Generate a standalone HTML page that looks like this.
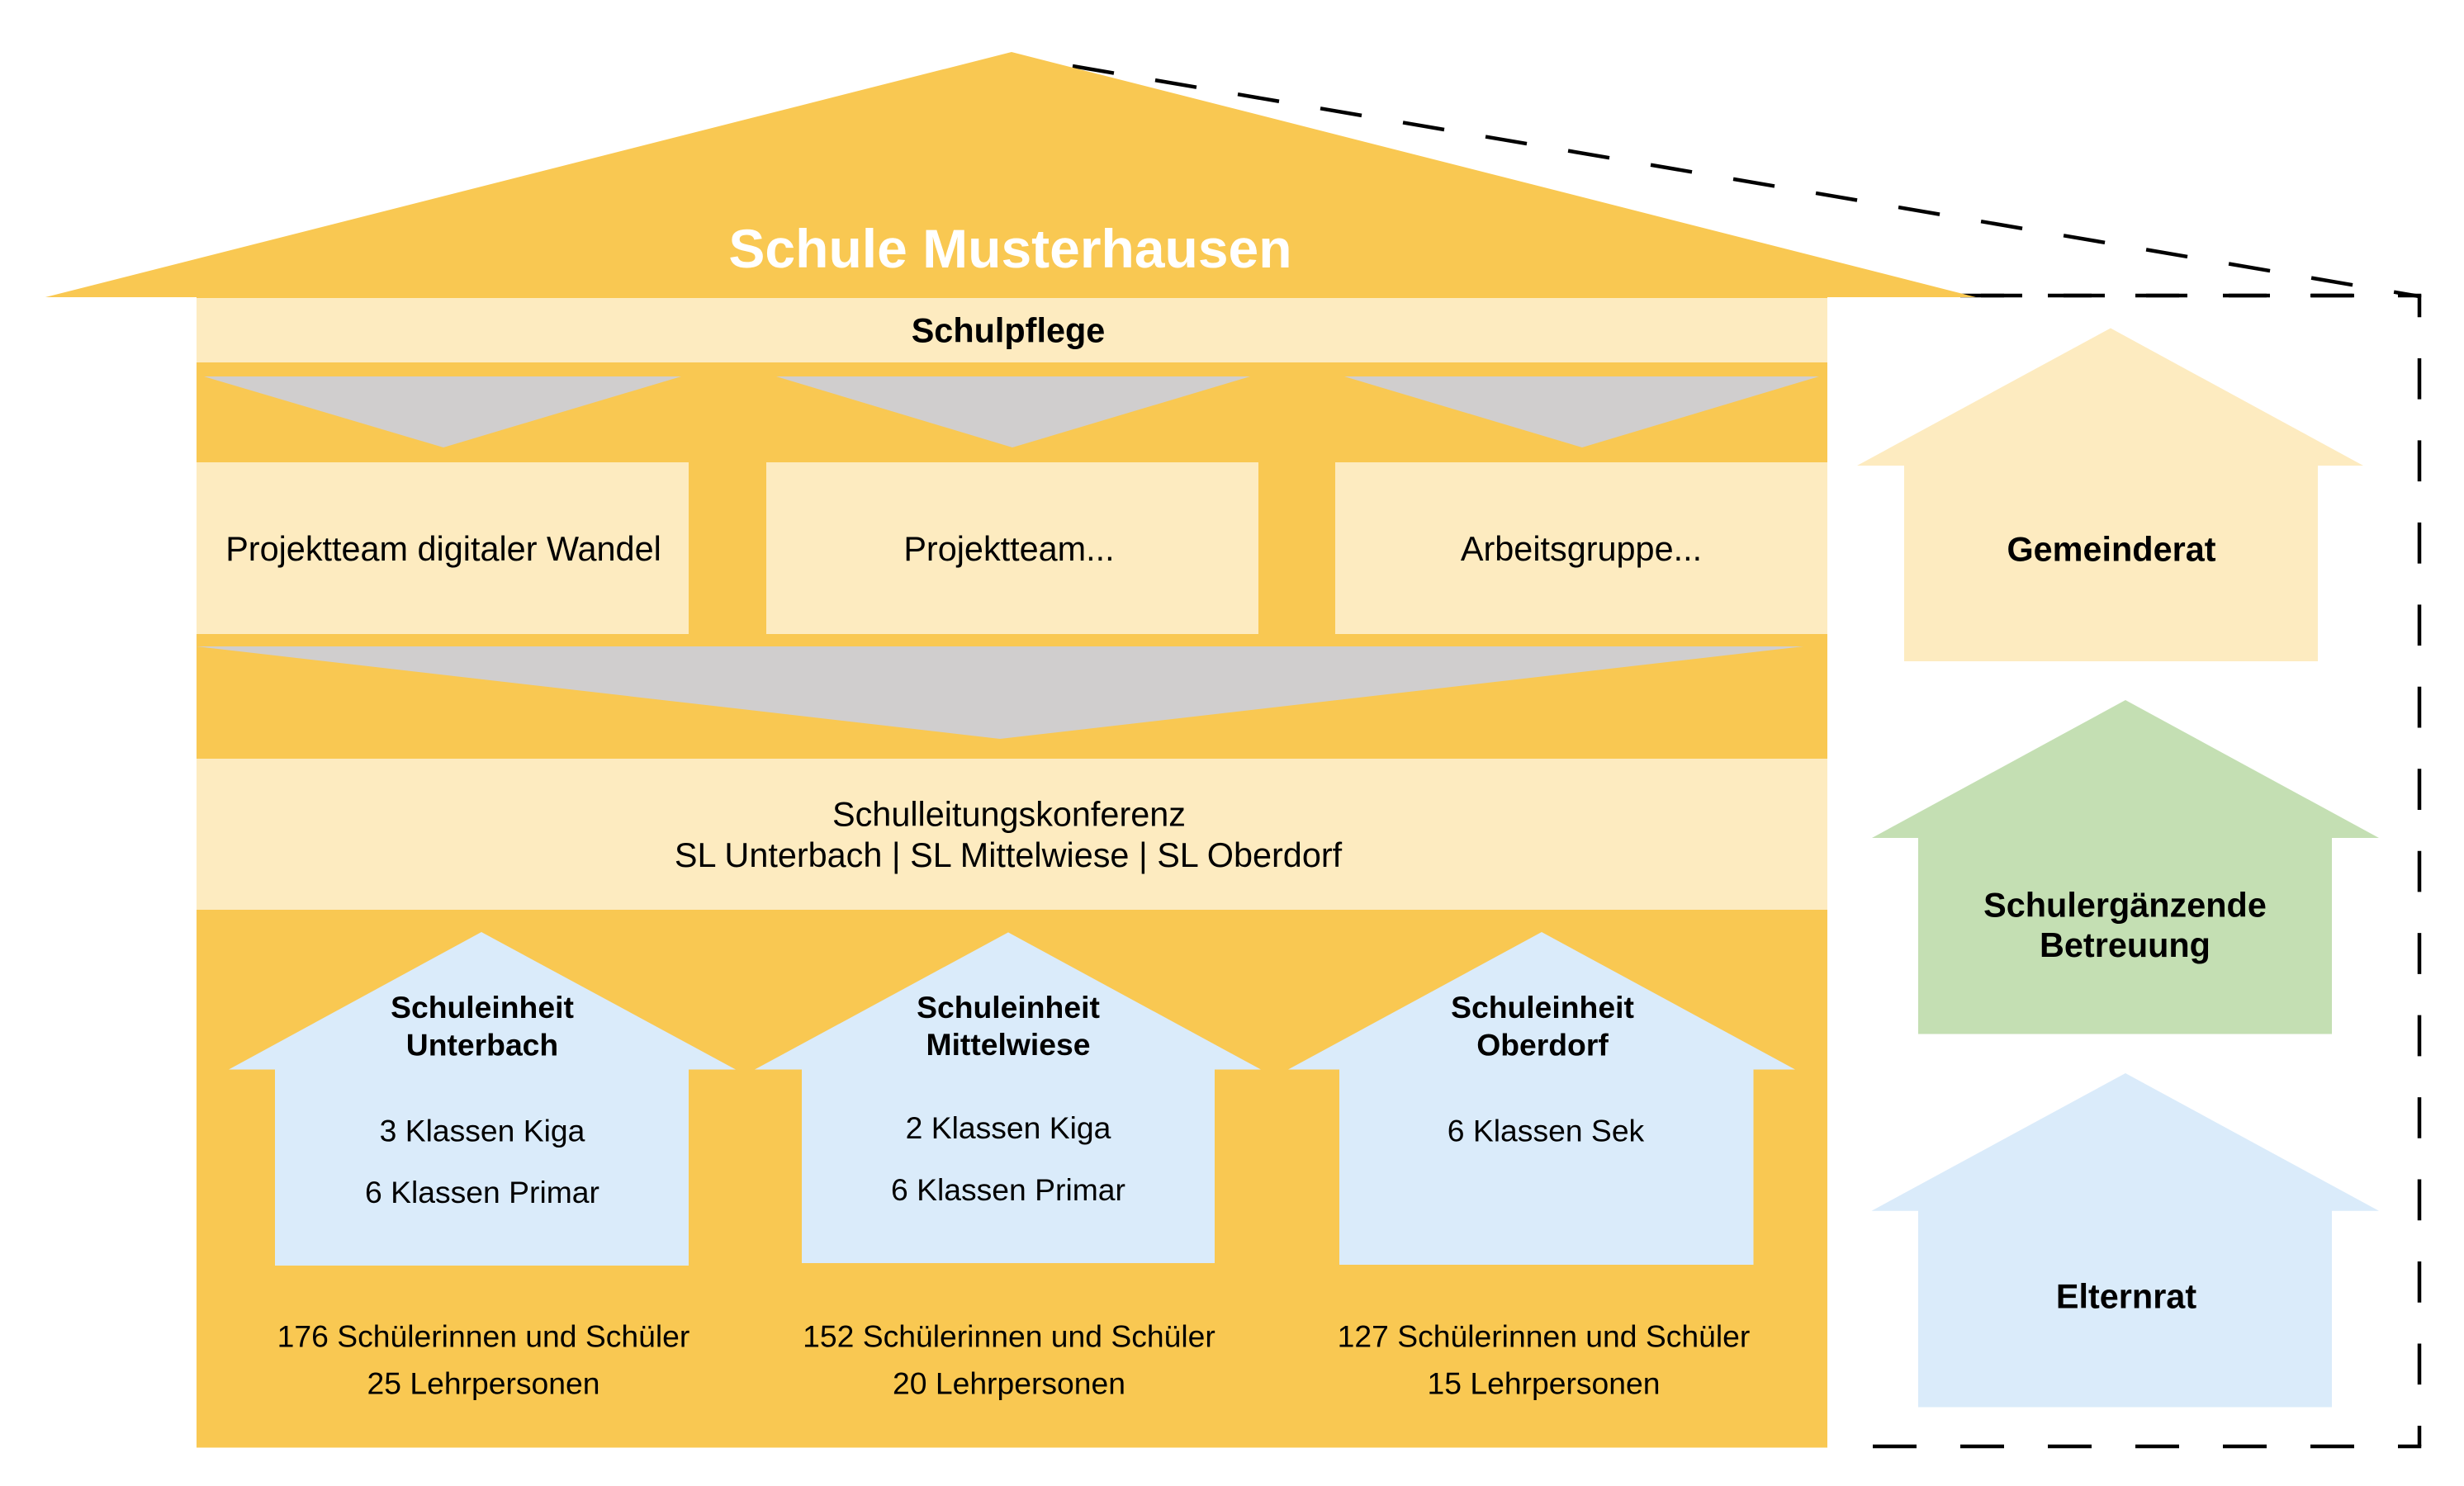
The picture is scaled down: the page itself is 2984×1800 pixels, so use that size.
<!DOCTYPE html>
<html>
<head>
<meta charset="utf-8">
<style>
  html, body { margin: 0; padding: 0; background: #ffffff; }
  svg { display: block; }
  text { font-family: "Liberation Sans", Arial, sans-serif; fill: #000; }
  .b { font-weight: bold; }
  .t41 { font-size: 41.4px; }
  .t37 { font-size: 37.3px; }
</style>
</head>
<body>
<svg xmlns="http://www.w3.org/2000/svg" width="2984" height="1800" viewBox="0 0 2984 1800">
  <rect x="0" y="0" width="2984" height="1800" fill="#ffffff"/>

  <!-- dashed outline -->
  <g stroke="#000" stroke-width="4.5" fill="none" stroke-linecap="butt">
    <line x1="1299" y1="80" x2="2930" y2="359" stroke-dasharray="50.7 50.76"/>
    <line x1="2930" y1="356.75" x2="2930" y2="1752" stroke-dasharray="49.7 49.76" stroke-dashoffset="22.25"/>
    <line x1="2374" y1="358" x2="2932.25" y2="358" stroke-dasharray="53 53"/>
    <line x1="2399" y1="358" x2="2849" y2="358" stroke-dasharray="50 50"/>
    <line x1="2268" y1="1752" x2="2932.25" y2="1752" stroke-dasharray="53 53"/>
  </g>

  <!-- main building -->
  <polygon points="55,360 1225,63 2393,360" fill="#F9C852"/>
  <rect x="238" y="359" width="1975" height="1394.5" fill="#F9C852"/>

  <!-- Schulpflege bar -->
  <rect x="238" y="361" width="1975" height="78" fill="#FDEBC0"/>

  <!-- small arrows -->
  <polygon points="247,456 825,456 537,542" fill="#D0CECE"/>
  <polygon points="940,456 1514,456 1226,542" fill="#D0CECE"/>
  <polygon points="1628,456 2203,456 1916,542" fill="#D0CECE"/>

  <!-- project boxes -->
  <rect x="238" y="560" width="596" height="208" fill="#FDEBC0"/>
  <rect x="928" y="560" width="596" height="208" fill="#FDEBC0"/>
  <rect x="1617" y="560" width="596" height="208" fill="#FDEBC0"/>

  <!-- big arrow -->
  <polygon points="238,783 2184,783 1211,895" fill="#D0CECE"/>

  <!-- Schulleitungskonferenz bar -->
  <rect x="238" y="919" width="1975" height="183" fill="#FDEBC0"/>

  <!-- school unit houses -->
  <polygon points="277,1295.5 583,1129 891,1295.5 834,1295.5 834,1533 333,1533 333,1295.5" fill="#DAEBFA"/>
  <polygon points="914,1295.5 1221,1129.4 1527,1295.5 1471,1295.5 1471,1530 971,1530 971,1295.5" fill="#DAEBFA"/>
  <polygon points="1560,1295.5 1867,1129 2174,1295.5 2123.5,1295.5 2123.5,1532 1622,1532 1622,1295.5" fill="#DAEBFA"/>

  <!-- right side houses -->
  <polygon points="2249,564 2556,397.5 2862,564 2807,564 2807,801 2306,801 2306,564" fill="#FDEBC0"/>
  <polygon points="2267,1015 2574,848 2881,1015 2824,1015 2824,1252.5 2323,1252.5 2323,1015" fill="#C4DFB3"/>
  <polygon points="2266.5,1466.7 2574,1300 2881,1466.7 2824,1466.7 2824,1704.5 2323,1704.5 2323,1466.7" fill="#DAEBFA"/>

  <!-- texts -->
  <text x="1223.5" y="324" text-anchor="middle" class="b" style="font-size:66px; fill:#ffffff;">Schule Musterhausen</text>
  <text x="1221" y="414.5" text-anchor="middle" class="b t41">Schulpflege</text>

  <text x="537" y="679" text-anchor="middle" class="t41">Projektteam digitaler Wandel</text>
  <text x="1222" y="679" text-anchor="middle" class="t41">Projektteam...</text>
  <text x="1915" y="679" text-anchor="middle" class="t41">Arbeitsgruppe...</text>

  <text x="1222" y="1000.4" text-anchor="middle" class="t41">Schulleitungskonferenz</text>
  <text x="1221" y="1050" text-anchor="middle" class="t41">SL Unterbach | SL Mittelwiese | SL Oberdorf</text>

  <!-- house 1 -->
  <text x="584" y="1233" text-anchor="middle" class="b t37">Schuleinheit</text>
  <text x="584" y="1278.6" text-anchor="middle" class="b t37">Unterbach</text>
  <text x="584" y="1382.6" text-anchor="middle" class="t37">3 Klassen Kiga</text>
  <text x="584" y="1457" text-anchor="middle" class="t37">6 Klassen Primar</text>
  <text x="585.5" y="1631.5" text-anchor="middle" class="t37">176 Schülerinnen und Schüler</text>
  <text x="585.5" y="1688.5" text-anchor="middle" class="t37">25 Lehrpersonen</text>

  <!-- house 2 -->
  <text x="1221" y="1233" text-anchor="middle" class="b t37">Schuleinheit</text>
  <text x="1221" y="1278" text-anchor="middle" class="b t37">Mittelwiese</text>
  <text x="1221" y="1379" text-anchor="middle" class="t37">2 Klassen Kiga</text>
  <text x="1221" y="1454" text-anchor="middle" class="t37">6 Klassen Primar</text>
  <text x="1222" y="1631.5" text-anchor="middle" class="t37">152 Schülerinnen und Schüler</text>
  <text x="1222" y="1688.5" text-anchor="middle" class="t37">20 Lehrpersonen</text>

  <!-- house 3 -->
  <text x="1868" y="1233" text-anchor="middle" class="b t37">Schuleinheit</text>
  <text x="1868" y="1278.6" text-anchor="middle" class="b t37">Oberdorf</text>
  <text x="1872" y="1382.6" text-anchor="middle" class="t37">6 Klassen Sek</text>
  <text x="1869.5" y="1631.5" text-anchor="middle" class="t37">127 Schülerinnen und Schüler</text>
  <text x="1869.5" y="1688.5" text-anchor="middle" class="t37">15 Lehrpersonen</text>

  <!-- right houses -->
  <text x="2557" y="679.5" text-anchor="middle" class="b t41">Gemeinderat</text>
  <text x="2573.5" y="1110.5" text-anchor="middle" class="b t41">Schulergänzende</text>
  <text x="2573.5" y="1159" text-anchor="middle" class="b t41">Betreuung</text>
  <text x="2575" y="1584.5" text-anchor="middle" class="b t41">Elternrat</text>
</svg>
</body>
</html>
